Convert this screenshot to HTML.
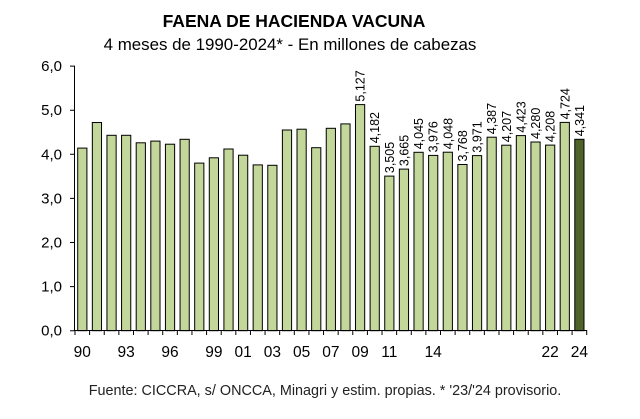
<!DOCTYPE html>
<html><head><meta charset="utf-8"><style>
html,body{margin:0;padding:0;background:#fff;}
svg{display:block;font-family:"Liberation Sans",Arial,sans-serif;}
</style></head><body>
<svg width="640" height="419" viewBox="0 0 640 419" xmlns="http://www.w3.org/2000/svg">
<text x="294" y="27" font-size="17.5" font-weight="bold" text-anchor="middle">FAENA DE HACIENDA VACUNA</text>
<text x="290" y="50" font-size="16.9" text-anchor="middle">4 meses de 1990-2024* - En millones de cabezas</text>
<g fill="#c4d79b" stroke="#000" stroke-width="1">
<rect x="77.71" y="148.1" width="9.2" height="182.6"/>
<rect x="92.33" y="122.5" width="9.2" height="208.2"/>
<rect x="106.95" y="135.3" width="9.2" height="195.4"/>
<rect x="121.57" y="135.3" width="9.2" height="195.4"/>
<rect x="136.19" y="142.8" width="9.2" height="187.9"/>
<rect x="150.81" y="141.1" width="9.2" height="189.6"/>
<rect x="165.43" y="144.2" width="9.2" height="186.5"/>
<rect x="180.05" y="139.3" width="9.2" height="191.4"/>
<rect x="194.67" y="163.1" width="9.2" height="167.6"/>
<rect x="209.29" y="157.8" width="9.2" height="172.9"/>
<rect x="223.91" y="149.0" width="9.2" height="181.7"/>
<rect x="238.53" y="155.2" width="9.2" height="175.5"/>
<rect x="253.15" y="164.9" width="9.2" height="165.8"/>
<rect x="267.77" y="165.3" width="9.2" height="165.4"/>
<rect x="282.39" y="130.0" width="9.2" height="200.7"/>
<rect x="297.01" y="129.2" width="9.2" height="201.5"/>
<rect x="311.63" y="147.7" width="9.2" height="183.0"/>
<rect x="326.25" y="128.3" width="9.2" height="202.4"/>
<rect x="340.87" y="123.9" width="9.2" height="206.8"/>
<rect x="355.49" y="104.6" width="9.2" height="226.1"/>
<rect x="370.11" y="146.3" width="9.2" height="184.4"/>
<rect x="384.73" y="176.1" width="9.2" height="154.6"/>
<rect x="399.35" y="169.1" width="9.2" height="161.6"/>
<rect x="413.97" y="152.3" width="9.2" height="178.4"/>
<rect x="428.59" y="155.4" width="9.2" height="175.3"/>
<rect x="443.21" y="152.2" width="9.2" height="178.5"/>
<rect x="457.83" y="164.5" width="9.2" height="166.2"/>
<rect x="472.45" y="155.6" width="9.2" height="175.1"/>
<rect x="487.07" y="137.2" width="9.2" height="193.5"/>
<rect x="501.69" y="145.2" width="9.2" height="185.5"/>
<rect x="516.31" y="135.6" width="9.2" height="195.1"/>
<rect x="530.93" y="142.0" width="9.2" height="188.7"/>
<rect x="545.55" y="145.1" width="9.2" height="185.6"/>
<rect x="560.17" y="122.4" width="9.2" height="208.3"/>
<rect x="574.79" y="139.3" width="9.2" height="191.4" fill="#4f6228"/>
</g>
<g font-size="12.5">
<text transform="translate(364.6,101.6) rotate(-90)">5,127</text>
<text transform="translate(379.2,143.3) rotate(-90)">4,182</text>
<text transform="translate(393.8,173.1) rotate(-90)">3,505</text>
<text transform="translate(408.5,166.1) rotate(-90)">3,665</text>
<text transform="translate(423.1,149.3) rotate(-90)">4,045</text>
<text transform="translate(437.7,152.4) rotate(-90)">3,976</text>
<text transform="translate(452.3,149.2) rotate(-90)">4,048</text>
<text transform="translate(466.9,161.5) rotate(-90)">3,768</text>
<text transform="translate(481.6,152.6) rotate(-90)">3,971</text>
<text transform="translate(496.2,134.2) rotate(-90)">4,387</text>
<text transform="translate(510.8,142.2) rotate(-90)">4,207</text>
<text transform="translate(525.4,132.6) rotate(-90)">4,423</text>
<text transform="translate(540.0,139.0) rotate(-90)">4,280</text>
<text transform="translate(554.7,142.1) rotate(-90)">4,208</text>
<text transform="translate(569.3,119.4) rotate(-90)">4,724</text>
<text transform="translate(583.9,136.3) rotate(-90)">4,341</text>
</g>
<line x1="74.5" y1="66" x2="74.5" y2="331" stroke="#000"/>
<line x1="74.5" y1="330.5" x2="587" y2="330.5" stroke="#000"/>
<path stroke="#000" fill="none" d="M70 330.7H75M70 286.6H75M70 242.5H75M70 198.4H75M70 154.3H75M70 110.2H75M70 66.1H75
M75 330v5M89.62 330v5M104.24 330v5M118.86 330v5M133.48 330v5M148.1 330v5M162.72 330v5M177.34 330v5M191.96 330v5M206.58 330v5M221.2 330v5M235.82 330v5M250.44 330v5M265.06 330v5M279.68 330v5M294.3 330v5M308.92 330v5M323.54 330v5M338.16 330v5M352.78 330v5M367.4 330v5M382.02 330v5M396.64 330v5M411.26 330v5M425.88 330v5M440.5 330v5M455.12 330v5M469.74 330v5M484.36 330v5M498.98 330v5M513.6 330v5M528.22 330v5M542.84 330v5M557.46 330v5M572.08 330v5M586.7 330v5"/>
<g font-size="15" text-anchor="end">
<text x="62" y="335.7">0,0</text>
<text x="62" y="291.6">1,0</text>
<text x="62" y="247.5">2,0</text>
<text x="62" y="203.4">3,0</text>
<text x="62" y="159.3">4,0</text>
<text x="62" y="115.2">5,0</text>
<text x="62" y="71.1">6,0</text>
</g>
<g font-size="15.5" text-anchor="middle">
<text x="82.31" y="357">90</text>
<text x="126.17" y="357">93</text>
<text x="170.03" y="357">96</text>
<text x="213.89" y="357">99</text>
<text x="243.13" y="357">01</text>
<text x="272.37" y="357">03</text>
<text x="301.61" y="357">05</text>
<text x="330.85" y="357">07</text>
<text x="360.09" y="357">09</text>
<text x="389.33" y="357">11</text>
<text x="433.19" y="357">14</text>
<text x="550.15" y="357">22</text>
<text x="579.39" y="357">24</text>
</g>
<text x="325" y="395" font-size="14.4" text-anchor="middle" fill="#222">Fuente: CICCRA, s/ ONCCA, Minagri y estim. propias. * '23/'24 provisorio.</text>
</svg>
</body></html>
